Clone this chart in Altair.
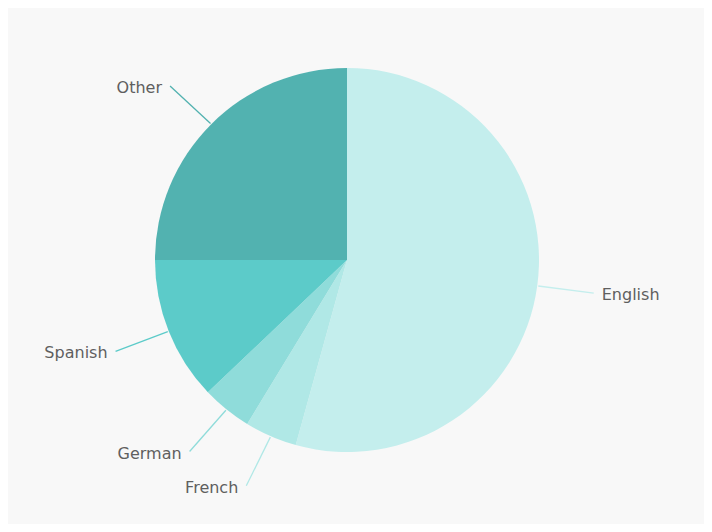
import altair as alt
import pandas as pd

languages = ["English", "French", "German", "Spanish", "Other"]
shares = [54.3, 4.4, 4.2, 12.1, 25.0]
colors = ["#c4eeed", "#b0e8e6", "#8fdcda", "#5ccbc9", "#52b2b0"]

df = pd.DataFrame({"lang": languages, "share": shares, "idx": list(range(len(languages)))})

CX, CY = 339, 252
R = 192
R_IN = 193
R_OUT = 246

color = alt.Color("lang:N", scale=alt.Scale(domain=languages, range=colors), legend=None)

pie = alt.Chart(df).mark_arc(radius=R).encode(
    theta=alt.Theta("share:Q", stack=True),
    color=color,
    order=alt.Order("idx:Q"),
    x=alt.value(CX),
    y=alt.value(CY),
)

base = (
    alt.Chart(df)
    .transform_window(cum="sum(share)", sort=[alt.SortField("idx")], frame=[None, 0])
    .transform_joinaggregate(total="sum(share)")
    .transform_calculate(mid="2*PI*(datum.cum - datum.share/2)/datum.total")
    .transform_calculate(side="sin(datum.mid) > 0 ? 1 : -1")
    .transform_calculate(
        x1=f"{CX} + {R_IN}*sin(datum.mid)",
        y1=f"{CY} - {R_IN}*cos(datum.mid)",
        x2=f"{CX} + {R_OUT}*sin(datum.mid) + 3*datum.side",
        y2=f"{CY} - {R_OUT}*cos(datum.mid)",
    )
    .transform_calculate(
        tx="datum.x2 + 8*datum.side",
        ty="datum.y2 + 2",
    )
)

leaders = base.mark_rule(strokeWidth=1.3).encode(
    x=alt.X("x1:Q", scale=None),
    y=alt.Y("y1:Q", scale=None),
    x2="x2:Q",
    y2="y2:Q",
    color=color,
)

text_style = dict(font="DejaVu Sans", fontSize=16, color="#5f5f5f", baseline="middle")

right_labels = base.transform_filter("datum.side > 0").mark_text(align="left", **text_style).encode(
    x=alt.X("tx:Q", scale=None), y=alt.Y("ty:Q", scale=None), text="lang:N"
)
left_labels = base.transform_filter("datum.side < 0").mark_text(align="right", **text_style).encode(
    x=alt.X("tx:Q", scale=None), y=alt.Y("ty:Q", scale=None), text="lang:N"
)

chart = (
    alt.layer(pie, leaders, right_labels, left_labels)
    .properties(width=696, height=516, background="#f8f8f8", padding=0, autosize="none")
    .configure_view(stroke=None)
)

chart.save("out.html", embed_options={"renderer": "svg", "actions": False})
